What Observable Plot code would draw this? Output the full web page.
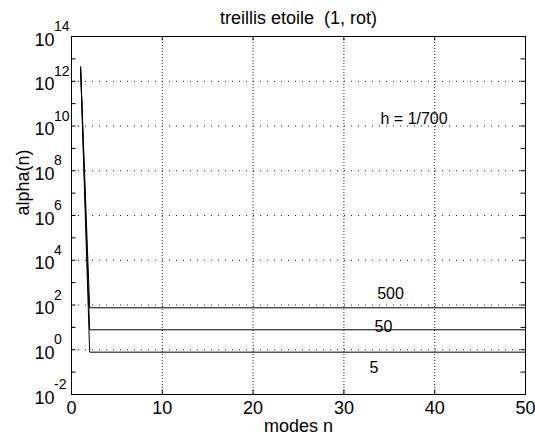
<!DOCTYPE html>
<html><head><meta charset="utf-8">
<script src="https://cdn.jsdelivr.net/npm/d3@7"></script>
<script src="https://cdn.jsdelivr.net/npm/@observablehq/plot@0.6"></script>
<style>html,body{margin:0;padding:0;background:#fff;} svg{display:block;}</style>
</head><body><div id="chart"></div>
<script>
// ---- data ----
const modes = [1, 2, 50];
const seriesNames = ["500", "50", "5"];
const alpha500 = [4.5e12, 75, 75];
const alpha50 = [4.2e12, 7.8, 7.8];
const alpha5 = [4.0e12, 0.78, 0.78];

const titleText = "treillis etoile  (1, rot)";
const xLabelText = "modes n";
const yLabelText = "alpha(n)";

const xTicks = [0, 10, 20, 30, 40, 50];
const xGrid = [10, 20, 30, 40];
const yTickExponents = [-2, 0, 2, 4, 6, 8, 10, 12, 14];
const yGridExponents = [0, 2, 4, 6, 8, 10, 12];
const yMinorExponents = [-1, 0, 1, 2, 3, 4, 5, 6, 7, 8, 9, 10, 11, 12, 13];

const annText = ["500", "50", "5", "h = 1/700"];
const annX = [33.67, 33.37, 32.82, 34.03];
const annY = [189, 6.5, 0.093, 1.26e10];

// ---- build tables ----
const seriesValues = [alpha500, alpha50, alpha5];
const rows = [];
seriesNames.forEach((s, k) => modes.forEach((n, i) => rows.push({series: s, n, alpha: seriesValues[k][i]})));
const annotations = annText.map((t, i) => ({t, x: annX[i], y: annY[i]}));

const xMin = 0, xMax = 50, yMin = 1e-2, yMax = 1e14;

const chart = Plot.plot({
  width: 535,
  height: 436,
  marginTop: 36,
  marginLeft: 71,
  marginRight: 10,
  marginBottom: 42,
  style: {fontFamily: "'Liberation Sans', Arial, Helvetica, sans-serif", background: "#fff", color: "#000"},
  x: {domain: [xMin, xMax], axis: null},
  y: {type: "log", domain: [yMin, yMax], axis: null},
  marks: [
    // dotted grid
    Plot.ruleY(yGridExponents, {y: d => 10 ** d, x1: xMin, x2: xMax, stroke: "#222", strokeWidth: 1, strokeDasharray: "1,6"}),
    Plot.ruleX(xGrid, {x: d => d, y1: yMin, y2: yMax, stroke: "#222", strokeWidth: 1, strokeDasharray: "1,2"}),
    // inward ticks, left and right
    Plot.ruleY(yMinorExponents, {y: d => 10 ** d, x1: xMin, x2: xMin + 0.5, stroke: "#000"}),
    Plot.ruleY(yMinorExponents, {y: d => 10 ** d, x1: xMax - 0.5, x2: xMax, stroke: "#000"}),
    // inward ticks, bottom and top
    Plot.ruleX(xTicks, {x: d => d, y1: yMin, y2: 10 ** -1.8, stroke: "#000"}),
    Plot.ruleX(xTicks, {x: d => d, y1: 10 ** 13.8, y2: yMax, stroke: "#000"}),
    // data lines
    Plot.line(rows, {x: "n", y: "alpha", z: "series", stroke: "#000", strokeWidth: 1}),
    // box
    Plot.frame({stroke: "#000", strokeWidth: 1}),
    // y tick labels: 10 with superscript exponent
    Plot.text(yTickExponents, {y: d => 10 ** d, frameAnchor: "left", text: () => "10", textAnchor: "end", lineAnchor: "bottom", dx: -17, dy: 9, fontSize: 18, fill: "#000"}),
    Plot.text(yTickExponents, {y: d => 10 ** d, frameAnchor: "left", text: d => String(d), textAnchor: "start", lineAnchor: "bottom", dx: -17.5, dy: -5.5, fontSize: 14, fill: "#000"}),
    // x tick labels
    Plot.text(xTicks, {x: d => d, frameAnchor: "bottom", text: d => String(d), textAnchor: "middle", lineAnchor: "bottom", dy: 19.5, fontSize: 18, fill: "#000"}),
    // annotations
    Plot.text(annotations, {x: "x", y: "y", text: "t", textAnchor: "start", lineAnchor: "bottom", fontSize: 16, fill: "#000"}),
    // title and axis labels
    Plot.text([titleText], {frameAnchor: "top", text: d => d, lineAnchor: "bottom", dy: -13, fontSize: 18, fill: "#000"}),
    Plot.text([xLabelText], {frameAnchor: "bottom", text: d => d, lineAnchor: "bottom", dy: 37, fontSize: 18, fill: "#000"}),
    Plot.text([yLabelText], {frameAnchor: "left", text: d => d, rotate: -90, lineAnchor: "bottom", dx: -43, fontSize: 18, fill: "#000"})
  ]
});
document.getElementById("chart").appendChild(chart);
</script>
</body></html>
